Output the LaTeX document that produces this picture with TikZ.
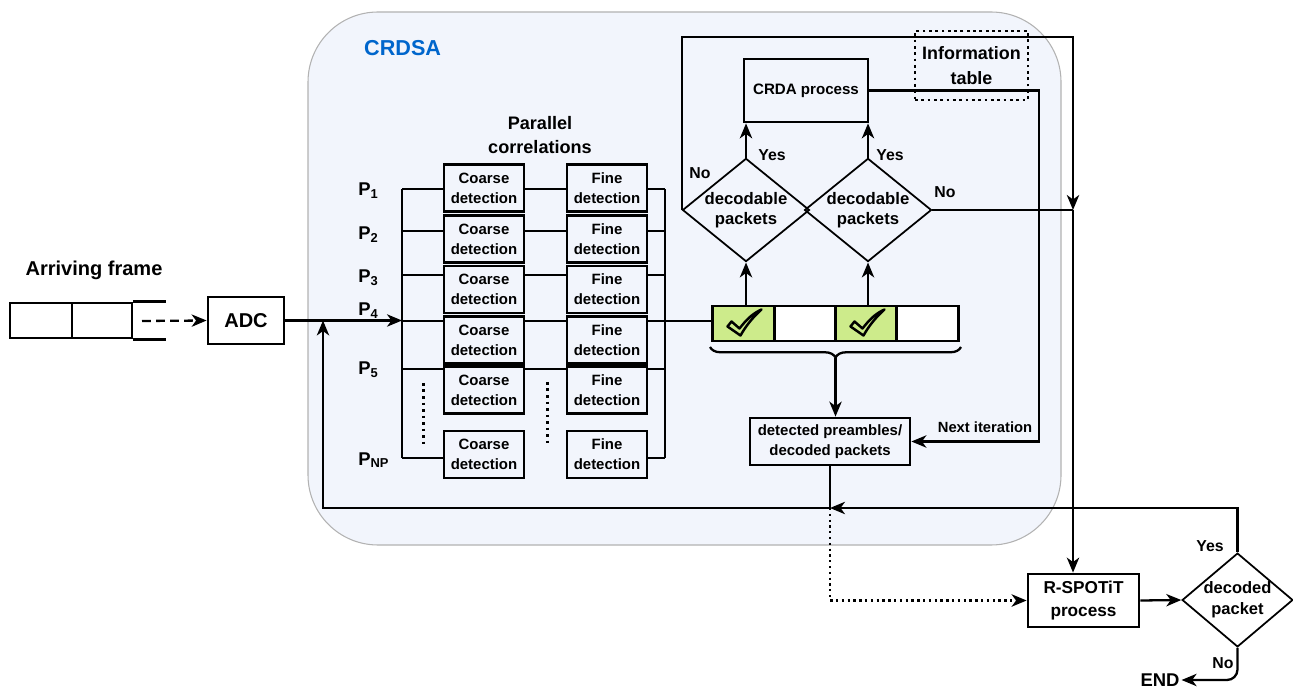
\documentclass[tikz,border=0pt]{standalone}
\usepackage{fontspec}
\setmainfont{Liberation Sans}
\usepackage{tikz}
\usetikzlibrary{arrows.meta,shapes.geometric,decorations.pathreplacing}
\definecolor{crdsabg}{HTML}{F2F5FC}
\definecolor{crdsablue}{HTML}{0066CC}
\definecolor{chkgreen}{HTML}{CDEB8B}

\begin{document}
\begin{tikzpicture}[x={(0.02cm,0cm)}, y={(0cm,-0.02cm)},
  >={Stealth[length=8.5pt,width=7pt,inset=2.5pt]},
  wire/.style={line width=1.3pt},
  blk/.style={draw, line width=1.6pt, inner sep=0pt, align=center},
  det/.style={blk, minimum width=1.6cm, minimum height=0.94cm,
    font=\fontsize{8.5}{11.3}\selectfont\bfseries},
  cond/.style={draw, diamond, line width=1pt, inner sep=0pt, align=center},
  lbl/.style={font=\fontsize{9}{11}\selectfont\bfseries},
  cell/.style={draw, line width=1.6pt, minimum width=1.23cm, minimum height=0.7cm}]
  \useasboundingbox (0,0) rectangle (1293,688);
  % CRDSA container
  \filldraw[fill=crdsabg, draw=gray!60, line width=0.6pt, rounded corners=1.4cm]
    (308,12) rectangle (1061,545);
  \node[anchor=west, crdsablue, font=\fontsize{12.3}{14}\selectfont\bfseries]
    (crdsa) at (358,48) {CRDSA};
  % Arriving frame and ADC
  \node[font=\fontsize{11.4}{13}\selectfont\bfseries] (arr) at (94,270) {Arriving frame};
  \node[blk, minimum width=1.24cm, minimum height=0.7cm] (fr1) at (41,320.5) {};
  \node[blk, minimum width=1.2cm, minimum height=0.7cm] (fr2) at (102,320.5) {};
  \draw[line width=1.6pt] (fr2.north east) -- ++(33,0) (fr2.south east) -- ++(33,0);
  \coordinate (frend) at (142,321);
  \node[blk, minimum width=1.52cm, minimum height=0.94cm,
    font=\fontsize{11.4}{13}\selectfont\bfseries] (adc) at (246,320.5) {ADC};
  \draw[wire, dash pattern=on 5pt off 3pt, ->] (frend) -- (adc.west);
  % Parallel correlations
  \node[font=\fontsize{10.3}{13.2}\selectfont\bfseries, align=center]
    (par) at (540,135) {Parallel\\correlations};
  \coordinate (busLt) at (402,189);
  \coordinate (busLb) at (402,458);
  \coordinate (busRt) at (665,189);
  \coordinate (busRb) at (665,458);
  \draw[wire] (busLt) -- (busLb);
  \draw[wire] (busRt) -- (busRb);
  \draw[wire,->] (adc.east) -- (busLt |- adc.east);
  \foreach \i/\yc/\yt in {1/188/189, 2/239/231, 3/289.5/275, 4/340/321, 5/390/369, 6/454.5/458} {
    \node[det] (co\i) at (484,\yc) {Coarse\\detection};
    \node[det] (fi\i) at (607,\yc) {Fine\\detection};
    \coordinate (tap\i) at (402,\yt);
    \draw[wire] (tap\i) -- (co\i.west |- tap\i) (fi\i.east |- tap\i) -- (busRt |- tap\i);
  }
  \foreach \i in {1,...,5}
    \draw[wire] (co\i.east |- tap\i) -- (fi\i.west |- tap\i);
  \foreach \i/\s/\yb in {1/1/196, 2/2/240, 3/3/283, 4/4/316, 5/5/375, 6/NP/465}
    \node[anchor=base west, inner sep=0pt, font=\fontsize{10.5}{12}\selectfont\bfseries]
      (p\i) at (358,\yb) {P\textsubscript{\s}};
  \draw[line width=1.7pt, dotted] (423,383) -- (423,445);
  \draw[line width=1.7pt, dotted] (547,382) -- (547,445);
  % Slots with check marks
  \foreach \i/\x/\c in {1/743.5/chkgreen, 2/805/white, 3/866.5/chkgreen, 4/927.5/white}
    \node[cell, fill=\c] (k\i) at (\x,323.5) {};
  \foreach \k in {k1,k3}
    \filldraw[fill=chkgreen, line width=1.4pt, line join=round, shift={(\k)}]
      (-16,3) -- (-12,-2) -- (-4,5) .. controls (3,-4) and (9,-10) .. (18,-14)
      .. controls (9,-6) and (2,3) .. (-3,12) -- cycle;
  \draw[wire] (busRt |- tap4) -- (k1.west |- tap4);
  \draw[wire, decorate, decoration={brace, mirror, amplitude=6pt}] (710,347) -- (961,347);
  \coordinate (bt) at (835.5,358);
  \node[blk, minimum width=3.2cm, minimum height=0.94cm,
    font=\fontsize{8.5}{11.3}\selectfont\bfseries] (det) at (830,441.5)
    {detected preambles/\\decoded packets};
  \draw[wire,->] (bt) -- (bt |- det.north);
  % Decodable tests and CRDA
  \node[cond, aspect=1.23, minimum width=2.46cm, minimum height=2cm,
    font=\fontsize{9.5}{11.7}\selectfont\bfseries] (dc1) at (746,210) {decodable\\packets};
  \node[cond, aspect=1.23, minimum width=2.46cm, minimum height=2cm,
    font=\fontsize{9.5}{11.7}\selectfont\bfseries] (dc2) at (868,210) {decodable\\packets};
  \node[blk, minimum width=2.48cm, minimum height=1.26cm,
    font=\fontsize{8.6}{11}\selectfont\bfseries] (crda) at (806,90.5) {CRDA process};
  \node[draw, dotted, line width=1.6pt, inner sep=0pt, minimum width=2.26cm,
    minimum height=1.38cm, align=center, font=\fontsize{10.2}{13.8}\selectfont\bfseries]
    (info) at (971.5,65.5) {Information\\table};
  \draw[wire,->] (dc1.south |- k1.north) -- (dc1.south);
  \draw[wire,->] (dc2.south |- k3.north) -- (dc2.south);
  \draw[wire,->] (dc1.north) -- (dc1.north |- crda.south);
  \draw[wire,->] (dc2.north) -- (dc2.north |- crda.south);
  \node[lbl] (y1) at (772,155) {Yes};
  \node[lbl] (y2) at (890,155) {Yes};
  \node[lbl] (n1) at (700,173) {No};
  \node[lbl] (n2) at (945,192) {No};
  \coordinate (top) at (1073,37);
  \coordinate (jn) at (1073,210);
  \draw[wire,->] (dc1.west) |- (top) -- (jn);
  \draw[wire] (dc2.east) -- (jn);
  % Next iteration
  \coordinate (nx) at (1039,441.5);
  \draw[wire,->] (crda.east) -| (nx) -- (det.east);
  \node[font=\fontsize{8.4}{10}\selectfont\bfseries] (nxt) at (985,427) {Next iteration};
  % R-SPOTiT
  \node[blk, minimum width=2.22cm, minimum height=1.06cm,
    font=\fontsize{9.8}{13.2}\selectfont\bfseries] (rs) at (1083.5,600.5) {R-SPOTiT\\process};
  \node[cond, aspect=1.18, minimum width=2.18cm, minimum height=1.84cm,
    font=\fontsize{9.4}{11.9}\selectfont\bfseries] (dp) at (1237.5,600) {decoded\\packet};
  \node[font=\fontsize{10.5}{12}\selectfont\bfseries, inner sep=1pt] (fin) at (1160,680) {END};
  \draw[wire,->] (jn) -- (jn |- rs.north);
  \draw[wire,->] (rs.east) -- (dp.west);
  \draw[wire,->, rounded corners=6pt] (dp.south) |- (fin.east);
  \node[lbl] (y3) at (1210,546) {Yes};
  \node[lbl] (n3) at (1223,663) {No};
  % Feedback to ADC output
  \coordinate (fb) at (323,508);
  \draw[wire,->] (dp.north) |- (det.south |- fb);
  \draw[wire,->] (det.south |- fb) -- (fb) -- (fb |- adc.east);
  \draw[wire] (det.south) -- (det.south |- fb);
  \draw[wire, dotted, line width=1.6pt, ->] (det.south |- fb) |- (rs.west);
\end{tikzpicture}
\end{document}
